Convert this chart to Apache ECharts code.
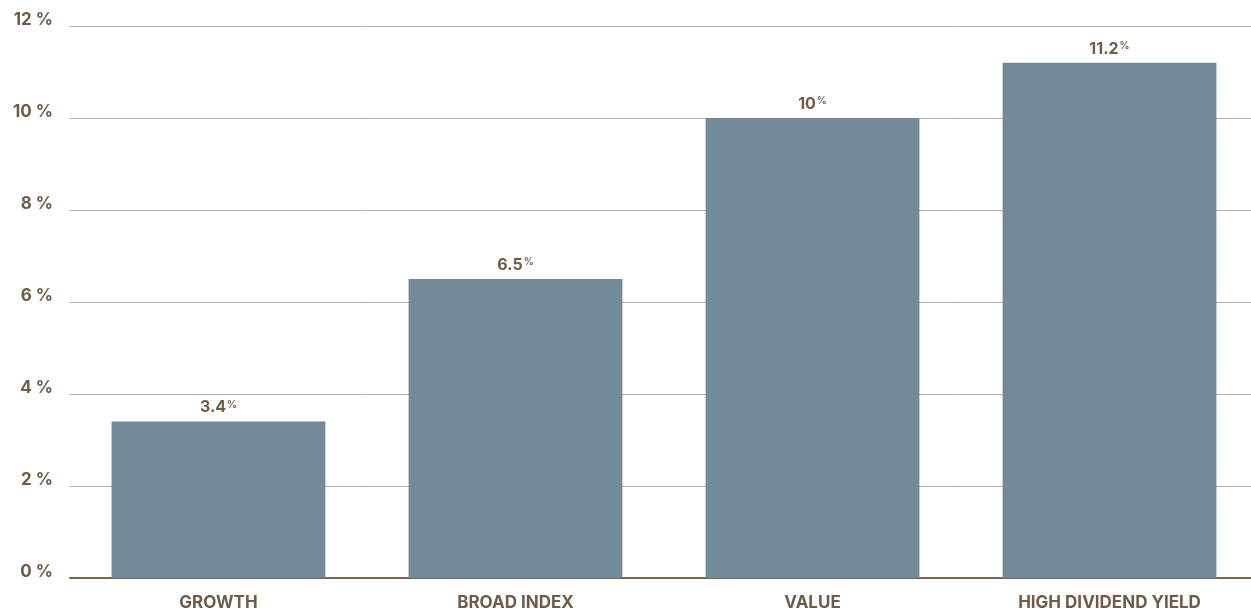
<!DOCTYPE html>
<html>
<head>
<meta charset="utf-8">
<script src="https://cdn.jsdelivr.net/npm/echarts@6/dist/echarts.min.js"></script>
<style>
  html, body { margin: 0; padding: 0; background: #fff; }
  #chart { width: 1251px; height: 615px; }
</style>
</head>
<body>
<div id="chart"></div>
<script>
// Categories and returns (%)
const categories = ['GROWTH', 'BROAD INDEX', 'VALUE', 'HIGH DIVIDEND YIELD'];
const returns = [3.4, 6.5, 10, 11.2];
const yTicks = [0, 2, 4, 6, 8, 10, 12];

const brown = '#6e5b48';
const barColor = '#738a98';
const font = 'Inter';

const chart = echarts.init(document.getElementById('chart'));
chart.setOption({
  animation: false,
  grid: { left: 70, width: 1188, top: 26, bottom: 37, outerBoundsMode: 'none' },
  xAxis: {
    type: 'category',
    data: categories,
    axisLine: { lineStyle: { color: '#7a6550', width: 2 } },
    axisTick: { show: false },
    axisLabel: {
      color: brown, fontFamily: font, fontWeight: 700, fontSize: 17, margin: 16
    }
  },
  yAxis: {
    type: 'value',
    min: yTicks[0],
    max: yTicks[yTicks.length - 1],
    interval: 2,
    axisLine: { show: false },
    axisTick: { show: false },
    splitLine: { lineStyle: { color: '#b3b1a3', width: 1 } },
    axisLabel: {
      color: brown, fontFamily: font, fontWeight: 700, fontSize: 17, margin: 17,
      verticalAlign: 'bottom', lineHeight: 12,
      formatter: v => v + ' %'
    }
  },
  series: [{
    type: 'bar',
    data: returns,
    barCategoryGap: '28%',
    itemStyle: { color: barColor },
    label: {
      show: true,
      position: 'top',
      distance: 6,
      formatter: p => '{n|' + p.value + '}{p|%}',
      rich: {
        n: { color: brown, fontFamily: font, fontWeight: 700, fontSize: 16 },
        p: { color: brown, fontFamily: font, fontWeight: 600, fontSize: 10, verticalAlign: 'top', padding: [0, 0, 6, 1] }
      }
    }
  }]
});
</script>
</body>
</html>
